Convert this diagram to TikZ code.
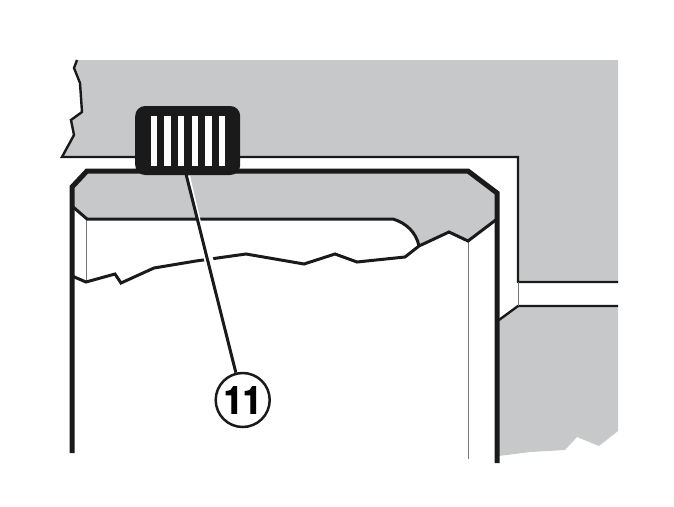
\documentclass[tikz,border=0pt]{standalone}
\usepackage{fontspec}
\usepackage{graphicx}
\setmainfont{TeX Gyre Heros}
\newfontfamily\numfont[BoldFeatures={FakeBold=2.5}]{TeX Gyre Heros}
\usetikzlibrary{positioning}
\definecolor{housing}{HTML}{C7C8CA}
\definecolor{ink}{HTML}{1A1A1A}
\tikzstyle{body} = [fill=housing, draw=none]
\tikzstyle{wall} = [draw=ink, line width=5pt, miter limit=4]
\tikzstyle{edge} = [draw=ink, line width=3pt, line join=miter]
\tikzstyle{hair} = [draw=ink!60, line width=1pt]
\tikzstyle{knob} = [rectangle, rounded corners=10pt, minimum width=105pt, minimum height=69pt, inner sep=0pt, fill=ink]
\tikzstyle{slot} = [rectangle, minimum width=6.4pt, minimum height=50pt, inner sep=0pt, fill=white]
\tikzstyle{callout} = [circle, minimum size=54pt, inner sep=0pt, draw=ink, line width=2.5pt, fill=white]

\begin{document}
\begin{tikzpicture}[x=1pt, y=1pt, yscale=-1]
\useasboundingbox (0,0) rectangle (674,506);

% housing above and below
\fill [body] (77,60) -- (74,68) -- (80,83) -- (82,112) -- (71,120) -- (74,135) -- (62,157) -- (518,157) -- (518,282) -- (618,282) -- (618,60) -- cycle;
\fill [body] (499,320) -- (518,306) -- (618,306) -- (618,431) -- (599,446) -- (577,437) -- (565,450) -- (530,452) -- (499,456) -- cycle;
\draw [edge, line width=2.4pt] (77,60) -- (74,68) -- (80,83) -- (82,112) -- (71,120) -- (74,135) -- (62,157) -- (518,157) -- (518,282) -- (618,282);
\draw [edge, line width=2.4pt] (499,320) -- (518,306) -- (618,306);
\draw [hair] (518,282) -- (518,306);

% cap of the part
\fill [body] (72,187) -- (87,171) -- (468,171) -- (497,193) -- (497,219) -- (468,241) -- (449,232) -- (419,246) .. controls (416,232) and (406,223) .. (393,219) -- (87,219) -- (72,206) -- cycle;
\draw [hair] (86,219) -- (86,282);
\draw [hair] (468,241) -- (468,459);
\draw [edge] (72,206) -- (87,219) -- (393,219) .. controls (406,223) and (416,232) .. (419,246);
\draw [edge] (72,276) -- (86,282) -- (115,274) -- (121,283) -- (154,268) -- (196,261) -- (246,254) -- (304,264) -- (335,254) -- (357,262) -- (405,257) -- (419,246) -- (449,232) -- (468,241) -- (497,219);
\draw [wall] (72,453) -- (72,187) -- (87,171) -- (468,171) -- (497,193) -- (497,463);

% knob and label
\node (grip) [knob] at (187.7,140.5) {};
\foreach \i/\sx in {1/154, 2/167.5, 3/181, 4/195, 5/208.5, 6/222}
  \node (slot\i) [slot] at (\sx,141) {};
\node (label) [callout] at (242.7,400) {\fontsize{38}{38}\numfont\bfseries\scalebox{0.9}[1]{11}};
\coordinate (leadtop) at (186,174);
\coordinate (haloa) at (188.5,176);
\coordinate (halob) at (209,262);
\coordinate (haloc) at (205,247);
\coordinate (halod) at (212,271);
\draw [white, line width=3pt] (haloa) -- (halob);
\draw [white, line width=9pt] (haloc) -- (halod);
\draw [draw=ink, line width=3pt] (leadtop) -- (label);

\end{tikzpicture}
\end{document}
